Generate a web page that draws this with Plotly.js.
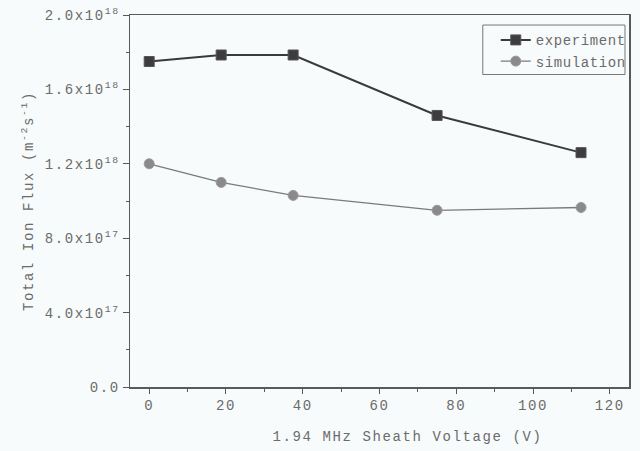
<!DOCTYPE html>
<html>
<head>
<meta charset="utf-8">
<script src="https://cdn.plot.ly/plotly-3.0.1.min.js"></script>
<style>
  html, body { margin: 0; padding: 0; background: #f8fbfb; }
  #chart { width: 640px; height: 451px; }
  #chart .main-svg text { letter-spacing: 1.6px; }
  #chart .main-svg .legend text { letter-spacing: 0.6px; }
</style>
</head>
<body>
<div id="chart"></div>
<script>
// Sheath voltage (V) of the 1.94 MHz source
const sheathVoltage = [0, 18.75, 37.5, 75, 112.5];
// Total ion flux (m^-2 s^-1)
const experimentFlux = [1.75e18, 1.785e18, 1.785e18, 1.46e18, 1.26e18];
const simulationFlux = [1.20e18, 1.10e18, 1.03e18, 0.95e18, 0.965e18];

const seriesNames = ['experiment', 'simulation'];

const yTickVals = [0, 4e17, 8e17, 1.2e18, 1.6e18, 2.0e18];
const yTickText = ['0.0', '4.0x10<sup>17</sup>', '8.0x10<sup>17</sup>',
                   '1.2x10<sup>18</sup>', '1.6x10<sup>18</sup>', '2.0x10<sup>18</sup>'];

const FONT = '"Courier New", "Nimbus Mono PS", "Liberation Mono", monospace';
const TEXT = '#6b6b6b';
const AXIS = '#5a5a5a';

const traces = [
  {
    x: sheathVoltage, y: experimentFlux, name: seriesNames[0],
    type: 'scatter', mode: 'lines+markers',
    line: { color: '#3a3a3a', width: 2 },
    marker: { symbol: 'square', size: 10, color: '#3d3d3d', line: { color: '#555', width: 1 } }
  },
  {
    x: sheathVoltage, y: simulationFlux, name: seriesNames[1],
    type: 'scatter', mode: 'lines+markers',
    line: { color: '#7a7a7a', width: 1.3 },
    marker: { symbol: 'circle', size: 10, color: '#8a8a8a', line: { color: '#9a9a9a', width: 1 } }
  }
];

const layout = {
  width: 640, height: 451,
  margin: { l: 130, r: 11, t: 15, b: 64 },
  paper_bgcolor: '#f8fbfb',
  plot_bgcolor: '#f8fbfb',
  font: { family: FONT, size: 14, color: TEXT },
  showlegend: true,
  legend: {
    x: 0.733, y: 0.975, xanchor: 'left', yanchor: 'top',
    bgcolor: 'rgba(0,0,0,0)', borderwidth: 0,
    font: { family: FONT, size: 14, color: TEXT },
    itemwidth: 30
  },
  xaxis: {
    range: [-5, 125],
    tickvals: [0, 20, 40, 60, 80, 100, 120],
    ticks: 'outside', ticklen: 5, tickcolor: AXIS, tickwidth: 1,
    minor: { ticks: 'outside', ticklen: 3, tickcolor: AXIS, dtick: 10, tick0: 0 },
    showline: true, linecolor: AXIS, linewidth: 1.5, mirror: true,
    showgrid: false, zeroline: false,
    tickfont: { family: FONT, size: 14, color: TEXT }
  },
  yaxis: {
    range: [0, 2e18],
    tickvals: yTickVals, ticktext: yTickText,
    ticks: 'outside', ticklen: 6, tickcolor: AXIS, tickwidth: 1,
    minor: { ticks: 'outside', ticklen: 3, tickcolor: AXIS, dtick: 2e17, tick0: 0 },
    showline: true, linecolor: AXIS, linewidth: 1.5, mirror: true,
    showgrid: false, zeroline: false,
    tickfont: { family: FONT, size: 14, color: TEXT },
    title: { text: 'Total Ion Flux (m<sup>-2</sup>s<sup>-1</sup>)', standoff: 20,
             font: { family: FONT, size: 14, color: TEXT } }
  },
  annotations: [
    {
      text: '1.94 MHz Sheath Voltage (V)', xref: 'paper', yref: 'paper',
      x: 0.557, y: -0.134, xanchor: 'center', yanchor: 'middle', showarrow: false,
      font: { family: FONT, size: 14, color: TEXT }
    }
  ],
  shapes: [
    {
      type: 'rect', xref: 'paper', yref: 'paper',
      x0: 0.707, x1: 0.992, y0: 0.84, y1: 0.973,
      line: { color: '#777', width: 1 }
    }
  ]
};

Plotly.newPlot('chart', traces, layout, { displayModeBar: false, staticPlot: true });
</script>
</body>
</html>
